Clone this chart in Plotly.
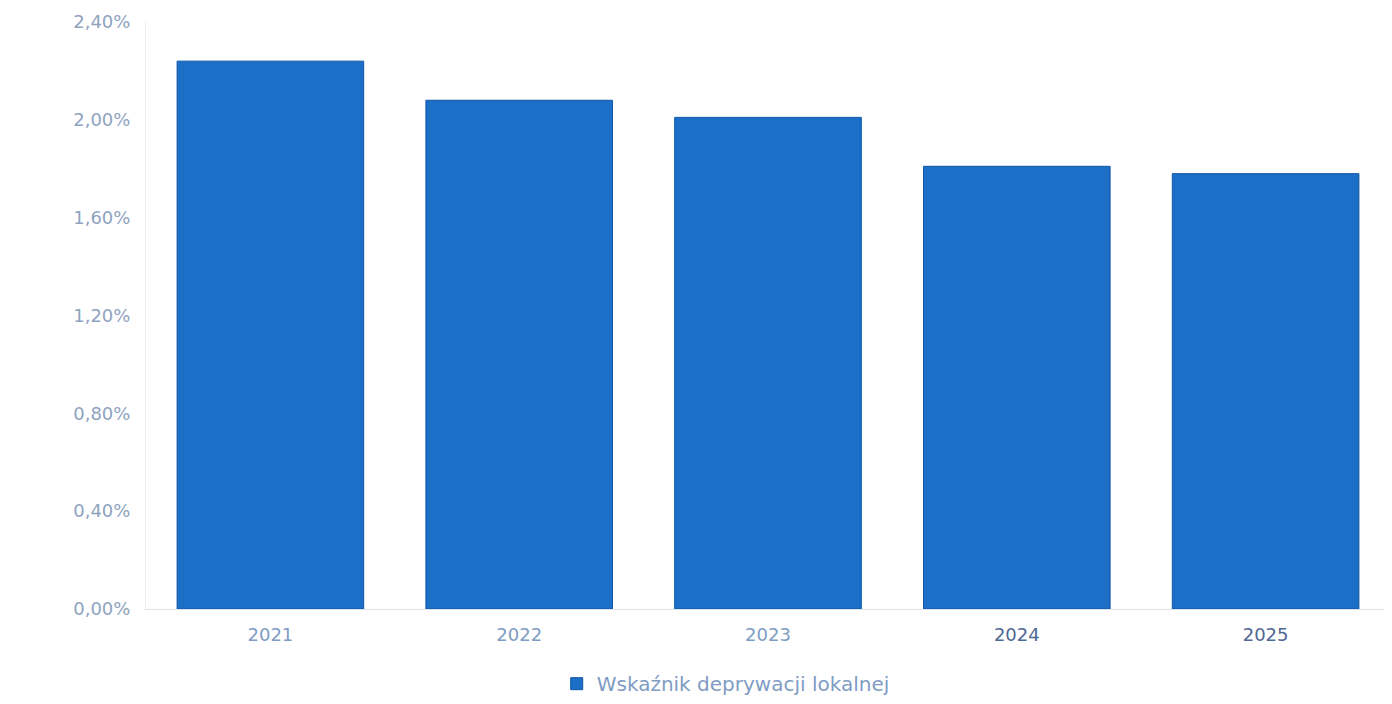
import plotly.graph_objects as go

years = ["2021", "2022", "2023", "2024", "2025"]
values = [0.0224, 0.0208, 0.0201, 0.0181, 0.0178]
tick_vals = [0, 0.004, 0.008, 0.012, 0.016, 0.020, 0.024]
year_colors = ["#7f9cc4", "#7f9cc4", "#7f9cc4", "#4f6894", "#4f6894"]
series_name = "Wskaźnik deprywacji lokalnej"

fig = go.Figure()
fig.add_trace(go.Bar(
    x=years, y=values, name=series_name,
    marker=dict(color="#1c6fc6", line=dict(color="#0f57a8", width=1)),
    showlegend=True,
))

fig.update_layout(
    width=1392, height=704,
    margin=dict(l=138, r=10, t=14, b=103, autoexpand=False),
    paper_bgcolor="white", plot_bgcolor="white",
    separators=", ",
    bargap=0.25,
    font=dict(family="DejaVu Sans", size=18, color="#8fa3bf"),
    showlegend=True,
    legend=dict(orientation="h", x=0.466, xanchor="center", y=-0.094, yanchor="top",
                font=dict(size=20, color="#7f9cc4"), itemwidth=30),
    xaxis=dict(
        tickmode="array", tickvals=years,
        ticktext=[f"<span style='color:{c}'>{y}</span>" for y, c in zip(years, year_colors)],
        showline=True, linecolor="#dde3ea", linewidth=1,
        ticks="", tickfont=dict(size=18), ticklabelstandoff=9, automargin=False,
    ),
    yaxis=dict(
        range=[0, 0.024], tickvals=tick_vals, tickformat=".2%",
        showgrid=False, zeroline=False,
        showline=True, linecolor="#eceff3", linewidth=1,
        ticks="", tickfont=dict(size=18, color="#8fa3bf"), ticklabelstandoff=11,
        automargin=False,
    ),
)

fig.write_html("out.html")
